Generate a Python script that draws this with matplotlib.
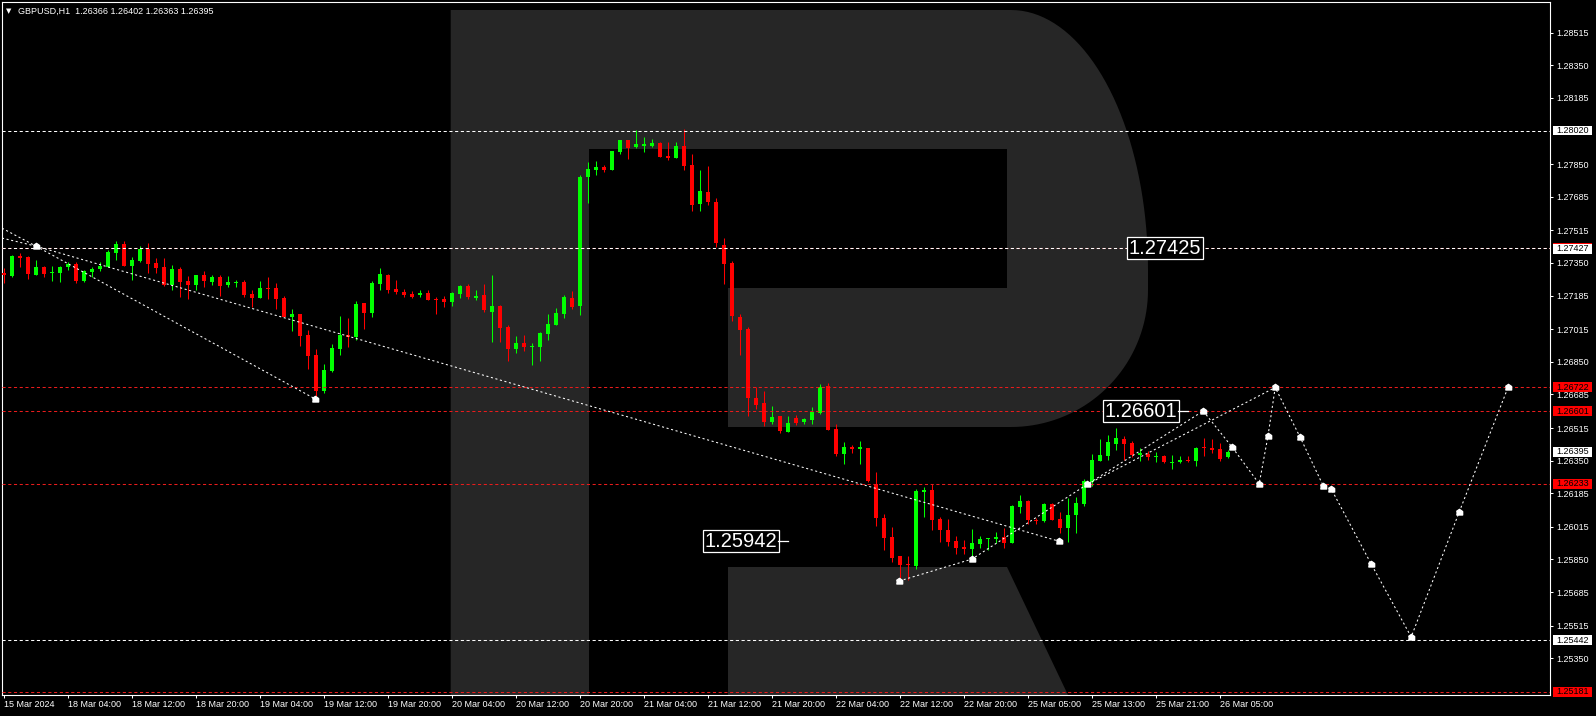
import numpy as np
import matplotlib.pyplot as plt
import matplotlib.transforms as mtransforms
from matplotlib.patches import Polygon, Rectangle
from matplotlib import font_manager

plt.rcParams['font.family'] = ['Liberation Sans', 'DejaVu Sans']

# GBPUSD H1 свечи (O/H/L/C)
opens = [1.27300, 1.27284, 1.27385, 1.27380, 1.27289, 1.27329, 1.27297, 1.27300, 1.27331, 1.27344,
         1.27258, 1.27304, 1.27319, 1.27331, 1.27402, 1.27446, 1.27336, 1.27361, 1.27420, 1.27350,
         1.27329, 1.27238, 1.27319, 1.27258, 1.27238, 1.27289, 1.27253, 1.27279, 1.27238, 1.27250,
         1.27253, 1.27193, 1.27172, 1.27223, 1.27223, 1.27172, 1.27076, 1.27092, 1.26985, 1.26884,
         1.26702, 1.26803, 1.26914, 1.26985, 1.26975, 1.27147, 1.27097, 1.27243, 1.27289, 1.27218,
         1.27204, 1.27194, 1.27188, 1.27199, 1.27169, 1.27169, 1.27154, 1.27194, 1.27235, 1.27174,
         1.27189, 1.27103, 1.27134, 1.27026, 1.26916, 1.26945, 1.26925, 1.26925, 1.26992, 1.27037,
         1.27093, 1.27172, 1.27134, 1.27785, 1.27820, 1.27835, 1.27820, 1.27911, 1.27972, 1.27936,
         1.27941, 1.27941, 1.27956, 1.27891, 1.27881, 1.27941, 1.27845, 1.27650, 1.27709, 1.27658,
         1.27441, 1.27350, 1.27076, 1.27016, 1.26666, 1.26641, 1.26544, 1.26575, 1.26496, 1.26565,
         1.26545, 1.26555, 1.26592, 1.26727, 1.26510, 1.26384, 1.26417, 1.26410, 1.26414, 1.26232,
         1.26059, 1.25963, 1.25867, 1.25827, 1.25817, 1.26191, 1.26201, 1.26054, 1.25999, 1.25943,
         1.25911, 1.25903, 1.25928, 1.25953, 1.25953, 1.25963, 1.25933, 1.26115, 1.26145, 1.26051,
         1.26044, 1.26130, 1.26054, 1.26009, 1.26074, 1.26130, 1.26242, 1.26348, 1.26373, 1.26434,
         1.26459, 1.26439, 1.26378, 1.26383, 1.26366, 1.26373, 1.26339, 1.26341, 1.26354, 1.26348,
         1.26419, 1.26412, 1.26409, 1.26366]
highs = [1.27324, 1.27392, 1.27399, 1.27387, 1.27365, 1.27334, 1.27334, 1.27334, 1.27356, 1.27356,
         1.27314, 1.27331, 1.27355, 1.27415, 1.27461, 1.27461, 1.27381, 1.27435, 1.27452, 1.27375,
         1.27375, 1.27339, 1.27329, 1.27284, 1.27289, 1.27309, 1.27289, 1.27289, 1.27284, 1.27264,
         1.27264, 1.27213, 1.27258, 1.27279, 1.27248, 1.27183, 1.27117, 1.27092, 1.27011, 1.26914,
         1.26839, 1.26940, 1.27081, 1.27071, 1.27157, 1.27147, 1.27258, 1.27324, 1.27294, 1.27264,
         1.27218, 1.27208, 1.27213, 1.27213, 1.27177, 1.27183, 1.27204, 1.27240, 1.27245, 1.27214,
         1.27245, 1.27290, 1.27139, 1.27036, 1.26980, 1.26985, 1.26945, 1.27000, 1.27092, 1.27122,
         1.27188, 1.27208, 1.27795, 1.27860, 1.27866, 1.27845, 1.27916, 1.27972, 1.27972, 1.28022,
         1.27987, 1.27977, 1.27961, 1.27961, 1.27961, 1.28027, 1.27901, 1.27820, 1.27840, 1.27678,
         1.27476, 1.27360, 1.27092, 1.27026, 1.26721, 1.26702, 1.26626, 1.26575, 1.26575, 1.26580,
         1.26565, 1.26621, 1.26736, 1.26741, 1.26535, 1.26445, 1.26429, 1.26449, 1.26414, 1.26292,
         1.26080, 1.26014, 1.25867, 1.25867, 1.26206, 1.26216, 1.26231, 1.26064, 1.26054, 1.25968,
         1.25948, 1.26004, 1.25968, 1.25960, 1.25988, 1.26009, 1.26125, 1.26176, 1.26150, 1.26059,
         1.26135, 1.26135, 1.26090, 1.26160, 1.26165, 1.26257, 1.26383, 1.26459, 1.26479, 1.26515,
         1.26474, 1.26449, 1.26414, 1.26398, 1.26393, 1.26378, 1.26378, 1.26373, 1.26373, 1.26419,
         1.26464, 1.26459, 1.26439, 1.26402]
lows = [1.27248, 1.27280, 1.27331, 1.27269, 1.27289, 1.27280, 1.27258, 1.27253, 1.27314, 1.27248,
        1.27255, 1.27277, 1.27311, 1.27329, 1.27365, 1.27336, 1.27264, 1.27355, 1.27300, 1.27300,
        1.27235, 1.27213, 1.27178, 1.27167, 1.27213, 1.27228, 1.27238, 1.27183, 1.27228, 1.27228,
        1.27178, 1.27127, 1.27172, 1.27167, 1.27117, 1.27076, 1.27005, 1.26930, 1.26813, 1.26656,
        1.26692, 1.26798, 1.26884, 1.26925, 1.26960, 1.27016, 1.27076, 1.27213, 1.27198, 1.27193,
        1.27179, 1.27171, 1.27179, 1.27162, 1.27093, 1.27128, 1.27134, 1.27174, 1.27169, 1.27162,
        1.27103, 1.26951, 1.26951, 1.26855, 1.26896, 1.26906, 1.26835, 1.26855, 1.26960, 1.27037,
        1.27073, 1.27118, 1.27088, 1.27653, 1.27795, 1.27810, 1.27820, 1.27901, 1.27876, 1.27931,
        1.27911, 1.27936, 1.27886, 1.27871, 1.27881, 1.27820, 1.27613, 1.27613, 1.27643, 1.27430,
        1.27243, 1.27056, 1.26884, 1.26577, 1.26610, 1.26525, 1.26535, 1.26491, 1.26496, 1.26530,
        1.26535, 1.26535, 1.26587, 1.26505, 1.26375, 1.26333, 1.26390, 1.26331, 1.26242, 1.26021,
        1.25898, 1.25837, 1.25746, 1.25746, 1.25801, 1.26066, 1.25999, 1.25938, 1.25918, 1.25877,
        1.25877, 1.25857, 1.25910, 1.25898, 1.25933, 1.25908, 1.25933, 1.26086, 1.26029, 1.26031,
        1.26039, 1.26049, 1.25983, 1.25938, 1.25983, 1.26120, 1.26221, 1.26348, 1.26353, 1.26403,
        1.26353, 1.26368, 1.26348, 1.26353, 1.26343, 1.26338, 1.26308, 1.26336, 1.26344, 1.26323,
        1.26373, 1.26388, 1.26348, 1.26363]
closes = [1.27287, 1.27385, 1.27376, 1.27295, 1.27329, 1.27294, 1.27306, 1.27329, 1.27344, 1.27258,
          1.27309, 1.27319, 1.27334, 1.27405, 1.27446, 1.27336, 1.27365, 1.27420, 1.27346, 1.27326,
          1.27238, 1.27319, 1.27255, 1.27238, 1.27289, 1.27258, 1.27279, 1.27233, 1.27253, 1.27255,
          1.27188, 1.27172, 1.27223, 1.27218, 1.27167, 1.27076, 1.27092, 1.26980, 1.26879, 1.26702,
          1.26808, 1.26919, 1.26985, 1.26976, 1.27142, 1.27097, 1.27248, 1.27294, 1.27213, 1.27203,
          1.27188, 1.27179, 1.27199, 1.27162, 1.27162, 1.27154, 1.27198, 1.27235, 1.27179, 1.27184,
          1.27113, 1.27132, 1.27022, 1.26916, 1.26945, 1.26926, 1.26930, 1.26995, 1.27041, 1.27097,
          1.27178, 1.27128, 1.27785, 1.27825, 1.27835, 1.27820, 1.27916, 1.27972, 1.27931, 1.27951,
          1.27951, 1.27956, 1.27886, 1.27882, 1.27941, 1.27840, 1.27643, 1.27714, 1.27658, 1.27451,
          1.27344, 1.27081, 1.27011, 1.26665, 1.26633, 1.26547, 1.26570, 1.26501, 1.26541, 1.26540,
          1.26560, 1.26596, 1.26721, 1.26505, 1.26384, 1.26419, 1.26410, 1.26417, 1.26248, 1.26061,
          1.25958, 1.25857, 1.25822, 1.25822, 1.26196, 1.26201, 1.26049, 1.25999, 1.25938, 1.25908,
          1.25903, 1.25933, 1.25953, 1.25960, 1.25963, 1.25933, 1.26122, 1.26145, 1.26049, 1.26044,
          1.26130, 1.26049, 1.26009, 1.26074, 1.26135, 1.26247, 1.26353, 1.26378, 1.26444, 1.26464,
          1.26434, 1.26378, 1.26387, 1.26366, 1.26371, 1.26343, 1.26344, 1.26353, 1.26349, 1.26414,
          1.26412, 1.26403, 1.26358, 1.26395]

# подписи времени (каждые 8 баров)
time_labels = ['15 Mar 2024', '18 Mar 04:00', '18 Mar 12:00', '18 Mar 20:00', '19 Mar 04:00',
               '19 Mar 12:00', '19 Mar 20:00', '20 Mar 04:00', '20 Mar 12:00', '20 Mar 20:00',
               '21 Mar 04:00', '21 Mar 12:00', '21 Mar 20:00', '22 Mar 04:00', '22 Mar 12:00',
               '22 Mar 20:00', '25 Mar 05:00', '25 Mar 13:00', '25 Mar 21:00', '26 Mar 05:00']
price_ticks = [1.28515, 1.28350, 1.28185, 1.27850, 1.27685, 1.27515, 1.27350, 1.27185, 1.27015,
               1.26850, 1.26685, 1.26515, 1.26350, 1.26185, 1.26015, 1.25850, 1.25685, 1.25515,
               1.25350]

# горизонтальные уровни
red_levels = [1.27427, 1.26722, 1.26601, 1.26233, 1.25181]
white_levels = [1.28020, 1.27425, 1.25442]

# метки цены справа: (цена, фон)
axis_marks = [(1.28020, 'white'), (1.27427, 'red'), (1.26722, 'red'), (1.26601, 'red'),
              (1.26395, 'white'), (1.26233, 'red'), (1.25442, 'white'), (1.25181, 'red')]

# волновая разметка: (бар, цена)
wave_a = [(-0.25, 1.27526), (4.0, 1.27435)]
wave_b = [(-0.25, 1.27476), (4.0, 1.27435)]
wave_c = [(4.0, 1.27435), (38.9, 1.26662)]
wave_d = [(4.0, 1.27435), (131.9, 1.25942)]
wave_e = [(111.9, 1.25741), (121.0, 1.25852), (135.4, 1.26230), (149.9, 1.26601)]
wave_f = [(135.4, 1.26230), (158.9, 1.26720)]
forecast = [(149.9, 1.26601), (153.5, 1.26419), (156.9, 1.26233), (158.0, 1.26475),
            (158.9, 1.26720), (162.0, 1.26470), (164.9, 1.26223), (165.9, 1.26207),
            (170.9, 1.25827), (175.9, 1.25458), (181.9, 1.26090), (188.0, 1.26720)]
arrow_pts = [(4.0, 1.27435), (38.9, 1.26662), (131.9, 1.25942), (111.9, 1.25741),
             (121.0, 1.25852), (135.4, 1.26230)] + forecast

# подписи уровней на графике
note_text = ['1.27425', '1.26601', '1.25942']
note_x = [145.1, 142.1, 92.1]
note_y = [1.27425, 1.26601, 1.25942]

W, H = 1596, 716
fig = plt.figure(figsize=(W / 100, H / 100), dpi=100, facecolor='black')
ax = fig.add_axes([2 / W, 21 / H, 1548 / W, 693 / H])
ax.set_facecolor('black')
ax.set_xlim(-0.25, 193.25)
ax.set_ylim(1.251643, 1.286703)

# водяной знак "R" (в пикселях картинки)
px = mtransforms.Affine2D().scale(1 / W, -1 / H).translate(0, 1) + fig.transFigure
t1 = np.linspace(np.pi / 2, 0, 40)
t2 = np.linspace(0, -np.pi / 2, 40)
arc = [(1011 + 137 * np.cos(t), 270 - 260 * np.sin(t)) for t in t1] + \
      [(1011 + 137 * np.cos(t), 290 - 137 * np.sin(t)) for t in t2]
bowl = [(450.7, 695), (450.7, 10)] + arc + [(728, 427), (728, 288), (1007, 288),
                                          (1007, 149), (589, 149), (589, 695)]
leg = [(728, 567), (1007, 567), (1068, 695), (728, 695)]
for shape in (bowl, leg):
    ax.add_patch(Polygon(shape, closed=True, transform=px, facecolor='#262626',
                         edgecolor='none', zorder=0))

# свечи
idx = np.arange(len(opens))
o = np.array(opens)
c = np.array(closes)
cols = np.where(c >= o, '#00ff00', '#ff0000')
ax.vlines(idx, lows, highs, colors=cols, linewidth=0.75, zorder=2)
body = np.maximum(np.abs(c - o), 0.00005)
ax.bar(idx, body, bottom=np.minimum(o, c), width=0.62, color=cols, linewidth=0, zorder=3)

# уровни
for lv in red_levels:
    ax.axhline(lv, color='#e81c1c', linewidth=0.75, dashes=(3, 2.5), zorder=4)
for lv in white_levels:
    ax.axhline(lv, color='white', linewidth=0.75, dashes=(3, 2.5), zorder=4)

# волны
dotted = dict(color='white', linewidth=0.75, dashes=(2, 2.5), zorder=5)
for seg in (wave_a, wave_b, wave_c, wave_d, wave_e, wave_f, forecast):
    xs, ys = zip(*seg)
    ax.plot(xs, ys, **dotted)
house = [(-1, -0.8), (1, -0.8), (1, 0.3), (0, 1), (-1, 0.3)]
ax.plot(*zip(*arrow_pts), linestyle='none', marker=house, markersize=4.5,
        color='white', zorder=6)

# подписи с рамкой
names = {f.name for f in font_manager.fontManager.ttflist}
if 'Liberation Sans Narrow' in names:
    nfam, nsize = 'Liberation Sans Narrow', 16.5
else:
    nfam, nsize = 'Liberation Sans', 14.5
for txt, xx, yy in zip(note_text, note_x, note_y):
    ax.text(xx, yy, txt, family=nfam, fontsize=nsize, color='white', ha='center',
            va='center', zorder=7,
            bbox=dict(boxstyle='square,pad=0.08', fc='black', ec='white', lw=0.9))
ax.plot([96.75, 98], [1.25942, 1.25942], color='white', linewidth=0.9, zorder=7)
ax.plot([146.75, 148], [1.26601, 1.26601], color='white', linewidth=0.9, zorder=7)

# оси
for sp in ax.spines.values():
    sp.set_color('white')
    sp.set_linewidth(0.8)
ax.yaxis.tick_right()
ax.set_yticks(price_ticks)
ax.set_yticklabels([f'{p:.5f}' for p in price_ticks])
ax.tick_params(axis='y', colors='white', labelcolor='white', labelsize=6.5,
               length=2.2, width=0.75, pad=2.5)
ax.set_xticks(np.arange(0, 8 * len(time_labels), 8))
ax.set_xticklabels(time_labels)
for lbl in ax.get_xticklabels():
    lbl.set_horizontalalignment('left')
ax.tick_params(axis='x', colors='white', labelcolor='white', labelsize=6.5,
               length=2.2, width=0.75, pad=1.5)

# ценовые метки справа
mark_tr = mtransforms.blended_transform_factory(ax.transAxes, ax.transData)
half = 0.000245
x0 = 1551 / 1548
for p, fc in axis_marks:
    off = -0.00004 if p == 1.27427 else 0
    ax.add_patch(Rectangle((x0, p - half), 39 / 1548, 2 * half, transform=mark_tr,
                           facecolor=fc, edgecolor='none', clip_on=False, zorder=8))
    if p == 1.27427:
        ax.add_patch(Rectangle((x0, p - half + off - 0.00002), 39 / 1548, 2 * half,
                               transform=mark_tr, facecolor='white', edgecolor='none',
                               clip_on=False, zorder=8))
    ax.text(x0 + 19.5 / 1548, p + off, f'{p:.5f}', transform=mark_tr, fontsize=6.5,
            color='black', ha='center', va='center', clip_on=False, zorder=9)

# заголовок
fig.text(6 / W, 1 - 11.5 / H, '▼', family='DejaVu Sans', fontsize=5, color='white',
         va='center')
fig.text(18 / W, 1 - 11 / H, 'GBPUSD,H1  1.26366 1.26402 1.26363 1.26395', fontsize=6.5,
         color='white', va='center')

fig.savefig('out.png', dpi=100, facecolor='black')
